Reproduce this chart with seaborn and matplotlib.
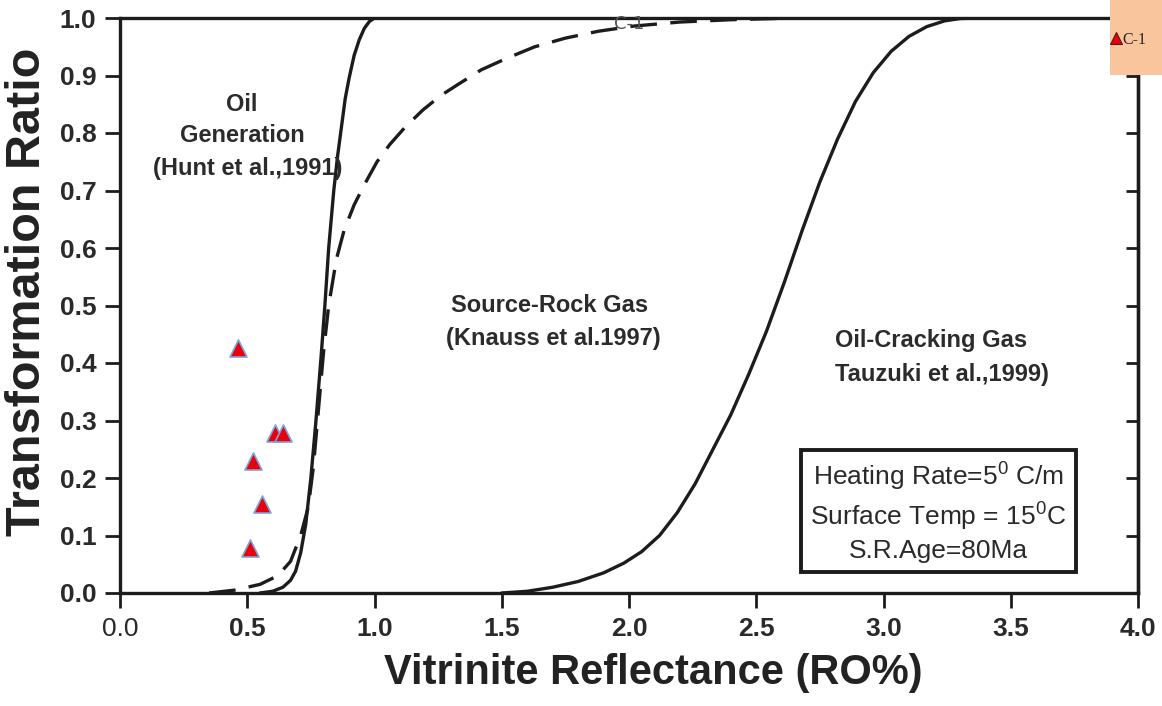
import numpy as np
import pandas as pd
import matplotlib
matplotlib.use("Agg")
import matplotlib.pyplot as plt
from matplotlib.lines import Line2D
from matplotlib.patches import Rectangle
import seaborn as sns

# Oil generation curve (Hunt et al., 1991)
hunt_ro = [0.55, 0.60, 0.64, 0.67, 0.69, 0.71, 0.73, 0.75, 0.77, 0.79, 0.805, 0.82, 0.84, 0.855,
           0.87, 0.885, 0.90, 0.92, 0.94, 0.96, 0.98, 1.00]
hunt_tr = [0.0, 0.003, 0.010, 0.022, 0.038, 0.07, 0.12, 0.20, 0.30, 0.41, 0.50, 0.60, 0.70, 0.76,
           0.81, 0.86, 0.895, 0.935, 0.962, 0.982, 0.994, 1.0]

# Source-rock gas curve (Knauss et al., 1997)
knauss_ro = [0.35, 0.45, 0.55, 0.62, 0.67, 0.71, 0.74, 0.76, 0.78, 0.80, 0.82, 0.85, 0.88, 0.92,
             0.96, 1.01, 1.06, 1.12, 1.19, 1.26, 1.33, 1.42, 1.52, 1.63, 1.75, 1.88, 2.02, 2.20,
             2.40, 2.65]
knauss_tr = [0.0, 0.005, 0.015, 0.03, 0.055, 0.10, 0.15, 0.22, 0.32, 0.42, 0.50, 0.58, 0.63, 0.675,
             0.71, 0.75, 0.78, 0.81, 0.84, 0.865, 0.885, 0.91, 0.93, 0.95, 0.965, 0.977, 0.986,
             0.993, 0.997, 1.0]

# Oil-cracking gas curve (Tauzuki et al., 1999)
tauzuki_ro = [1.50, 1.60, 1.70, 1.80, 1.90, 1.98, 2.05, 2.12, 2.19, 2.26, 2.33, 2.40, 2.47, 2.54,
              2.61, 2.68, 2.75, 2.82, 2.89, 2.96, 3.03, 3.10, 3.17, 3.24, 3.30, 3.36, 4.00]
tauzuki_tr = [0.0, 0.003, 0.010, 0.020, 0.035, 0.052, 0.072, 0.100, 0.140, 0.190, 0.250, 0.310,
              0.380, 0.455, 0.540, 0.630, 0.715, 0.790, 0.855, 0.905, 0.942, 0.968, 0.985, 0.995,
              0.999, 1.0, 1.0]

# Well C-1 samples
c1_ro = [0.464, 0.609, 0.642, 0.524, 0.557, 0.511]
c1_tr = [0.426, 0.278, 0.278, 0.230, 0.155, 0.078]

x_ticks = [0.0, 0.5, 1.0, 1.5, 2.0, 2.5, 3.0, 3.5, 4.0]
x_tick_labels = ["0.0", "0.5", "1.0", "1.5", "2.0", "2.5", "3.0", "3.5", "4.0"]
y_ticks = [0.0, 0.1, 0.2, 0.3, 0.4, 0.5, 0.6, 0.7, 0.8, 0.9, 1.0]
y_tick_labels = ["0.0", "0.1", "0.2", "0.3", "0.4", "0.5", "0.6", "0.7", "0.8", "0.9", "1.0"]

sns.set_theme(style="white")
plt.rcParams["font.family"] = ["Liberation Sans", "DejaVu Sans"]
plt.rcParams["mathtext.default"] = "regular"

ink = "#1c1c1c"

fig = plt.figure(figsize=(11.62, 7.06), dpi=100)
ax = fig.add_axes([120 / 1162, 113 / 706, 1018 / 1162, 575 / 706])

hunt = pd.DataFrame({"ro": hunt_ro, "tr": hunt_tr})
knauss = pd.DataFrame({"ro": knauss_ro, "tr": knauss_tr})
tauzuki = pd.DataFrame({"ro": tauzuki_ro, "tr": tauzuki_tr})
samples = pd.DataFrame({"ro": c1_ro, "tr": c1_tr})

sns.lineplot(data=hunt, x="ro", y="tr", ax=ax, color=ink, lw=2.4, sort=False, estimator=None)
sns.lineplot(data=knauss, x="ro", y="tr", ax=ax, color=ink, lw=2.4, sort=False, estimator=None)
ax.lines[-1].set_linestyle((0, (8, 4)))
sns.lineplot(data=tauzuki, x="ro", y="tr", ax=ax, color=ink, lw=2.4, sort=False, estimator=None)
sns.scatterplot(data=samples, x="ro", y="tr", ax=ax, marker="^", s=150, color="#e8000f",
                edgecolor="#7aa6d8", linewidth=1.2, zorder=5)

ax.set_xlim(0, 4.0)
ax.set_ylim(0, 1.0)
ax.set_xticks(x_ticks)
ax.set_xticklabels(x_tick_labels, fontsize=19, fontweight="bold", color="#2a2a2a")
ax.get_xticklabels()[0].set_fontweight("normal")
ax.set_yticks(y_ticks)
ax.set_yticklabels(y_tick_labels, fontsize=19, fontweight="bold", color="#2a2a2a")
ax.tick_params(axis="both", direction="out", length=11, width=2, color=ink, pad=6,
               bottom=True, left=True)

# Inward ticks along the right frame
right = ax.secondary_yaxis("right")
right.set_yticks(y_ticks)
right.tick_params(direction="in", length=9, width=2, color=ink, labelright=False)
right.spines["right"].set_linewidth(2.4)
right.spines["right"].set_color(ink)

for side in ["left", "right", "top", "bottom"]:
    ax.spines[side].set_visible(True)
    ax.spines[side].set_linewidth(2.4)
    ax.spines[side].set_color(ink)

ax.set_xlabel("Vitrinite Reflectance (RO%)", fontsize=30, fontweight="bold", color="#222222")
ax.xaxis.set_label_coords(0.5235, -0.105)
ax.set_ylabel("Transformation Ratio", fontsize=35, fontweight="bold", color="#222222")
ax.yaxis.set_label_coords(-0.069, 0.523)

note_style = dict(fontsize=17, fontweight="bold", color="#2b2b2b")
ax.text(0.48, 0.85, "Oil", ha="center", va="center", **note_style)
ax.text(0.48, 0.795, "Generation", ha="center", va="center", **note_style)
ax.text(0.50, 0.738, "(Hunt et al.,1991)", ha="center", va="center", **note_style)
ax.text(1.30, 0.50, "Source-Rock Gas", ha="left", va="center", **note_style)
ax.text(1.28, 0.443, "(Knauss et al.1997)", ha="left", va="center", **note_style)
ax.text(2.81, 0.440, "Oil-Cracking Gas", ha="left", va="center", **note_style)
ax.text(2.81, 0.380, "Tauzuki et al.,1999)", ha="left", va="center", **note_style)
ax.text(2.0, 0.99, "C-1", ha="center", va="center", fontsize=13, color="#555555",
        family=["DejaVu Sans"])

ax.text(3.215, 0.141,
        "Heating Rate=5$^0$ C/m\nSurface Temp = 15$^0$C\nS.R.Age=80Ma",
        ha="center", va="center", fontsize=19, color="#2a2a2a", linespacing=1.3,
        bbox=dict(boxstyle="square,pad=0.35", facecolor="white", edgecolor=ink, linewidth=2.8))

# Well legend in the top-right corner
fig.patches.append(Rectangle((1110 / 1162, 1 - 75 / 706), 52 / 1162, 75 / 706,
                             transform=fig.transFigure, facecolor="#f9c59c", edgecolor="none",
                             zorder=9))
handle = Line2D([], [], marker="^", linestyle="none", markersize=8, markerfacecolor="#e00010",
                markeredgecolor="#5a1a1a", markeredgewidth=0.8)
leg = fig.legend([handle], ["C-1"], loc="center left", bbox_to_anchor=(1112 / 1162, 1 - 40 / 706),
                 frameon=False, handlelength=0.5, handletextpad=0.15,
                 borderpad=0, borderaxespad=0,
                 prop={"family": ["Liberation Serif", "DejaVu Serif"], "size": 11.5})
leg.set_zorder(10)

fig.savefig("out.png", dpi=100)
